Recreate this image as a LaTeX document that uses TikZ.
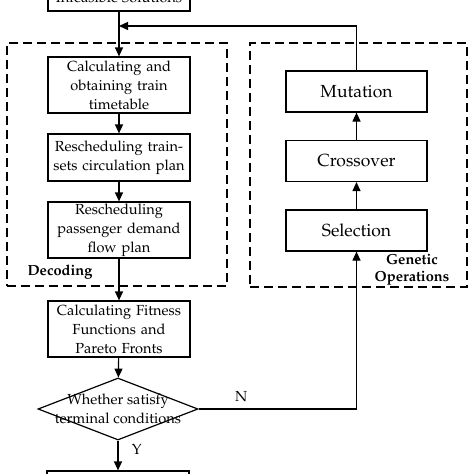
\documentclass[tikz,border=0pt]{standalone}
\usepackage[T1]{fontenc}
\usepackage{mathpazo}
\usetikzlibrary{shapes.geometric,arrows.meta}
\begin{document}
\begin{tikzpicture}[x=1pt,y=-1pt,
  line width=1.2pt,
  every node/.style={font=\fontsize{14.6}{19}\selectfont, text=black},
  pbox/.style={draw, minimum width=142pt, inner sep=0pt, align=center, text width=140pt},
  gbox/.style={draw, minimum width=141pt, minimum height=41pt, inner sep=0pt, font=\fontsize{17.5}{21}\selectfont},
  dashbox/.style={draw, dash pattern=on 9pt off 5pt, inner sep=0pt},
  lbl/.style={font=\fontsize{14.6}{17}\selectfont\bfseries, align=center},
  arr/.style={-{Triangle[length=9pt,width=8pt]}},
]
\useasboundingbox (0,0) rectangle (474,474);
\clip (0,0) rectangle (474,474);
\fill[white] (0,0) rectangle (474,474);

% containers
\node[dashbox, minimum width=220pt, minimum height=243pt] (dec) at (117,164.5) {};
\node[dashbox, minimum width=217pt, minimum height=244pt] (gen) at (358.5,165) {};
\node[lbl] (decl) at (60,272) {Decoding};
\node[lbl] (genl) at (412,270) {Genetic\\Operations};

% main column
\node[pbox, minimum height=40pt] (top) at (119,-9) {};
\node (topt) at (119,-3) {Infeasible Solutions};
\node[pbox, minimum height=56pt] (b1) at (119,85) {Calculating and\\obtaining train\\timetable};
\node[pbox, minimum height=47pt] (b2) at (119,157.5) {Rescheduling train-\\sets circulation plan};
\node[pbox, minimum height=56pt] (b3) at (119,230) {Rescheduling\\passenger demand\\flow plan};
\node[pbox, minimum height=56pt] (b4) at (119,329) {Calculating Fitness\\Functions and\\Pareto Fronts};
\node[draw, diamond, minimum width=160pt, minimum height=62pt, inner sep=0pt] (d) at (118,409) {};
\node[align=center] (dt) at (118,409) {Whether satisfy\\terminal conditions};
\node[pbox, minimum height=40pt] (bot) at (118,491) {};

% genetic column
\node[gbox] (mut) at (356.5,91.5) {Mutation};
\node[gbox] (cro) at (356.5,161) {Crossover};
\node[gbox] (sel) at (356.5,230.5) {Selection};

\coordinate (merge) at (119,26);

% connectors
\draw[arr] (top.south) -- (b1.north);
\draw[arr] (b1) -- (b2);
\draw[arr] (b2) -- (b3);
\draw[arr] (b3) -- (b4);
\draw[arr] (b4) -- (d);
\draw[arr] (d.south) -- (bot.north) node[pos=0.3, right=10pt] (y) {Y};
\draw[arr] (d.east) -| (sel.south) node[pos=0.135, above=3pt] (n) {N};
\draw[arr] (sel) -- (cro);
\draw[arr] (cro) -- (mut);
\draw[arr] (mut.north) |- (merge);
\end{tikzpicture}
\end{document}
